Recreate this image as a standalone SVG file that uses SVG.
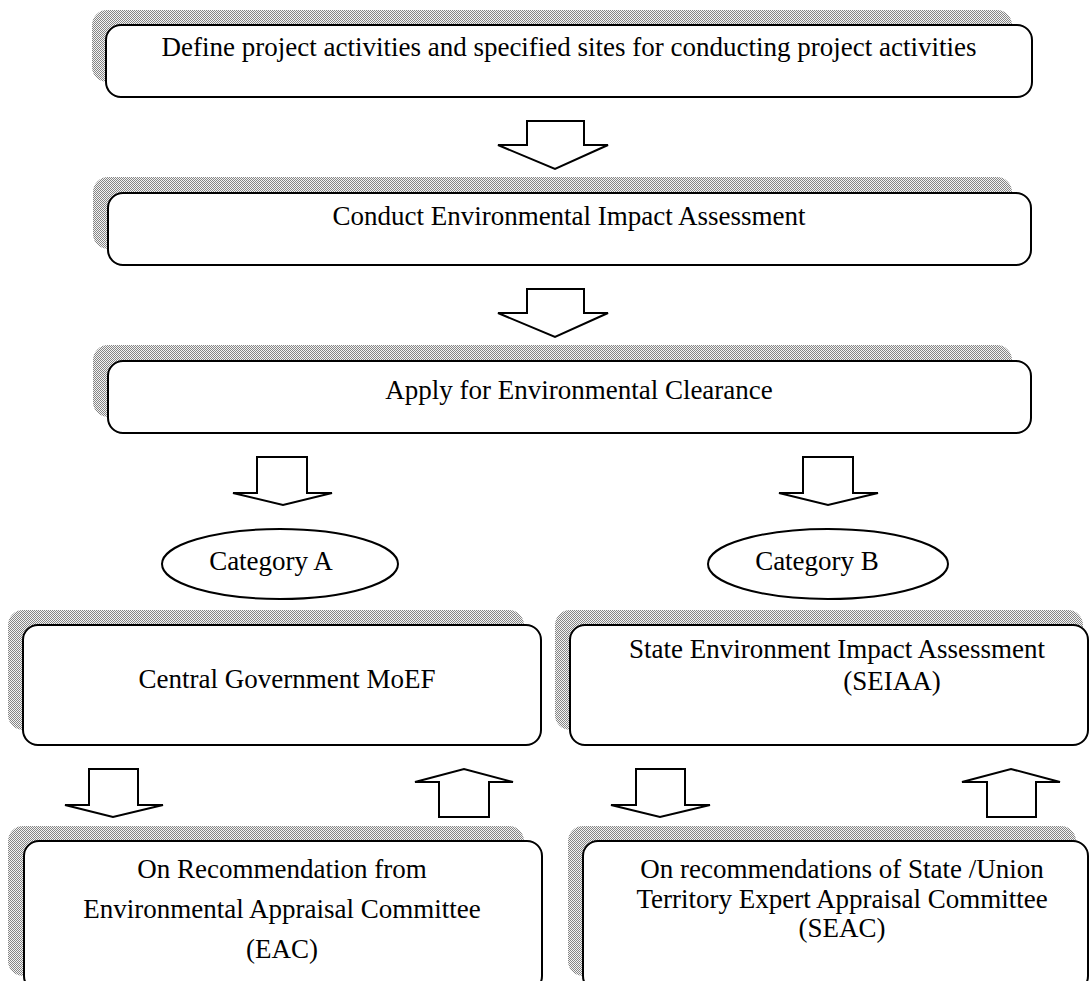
<svg xmlns="http://www.w3.org/2000/svg" width="1092" height="981" viewBox="0 0 1092 981">
<defs>
<pattern id="chk" width="2" height="2" patternUnits="userSpaceOnUse">
<rect width="2" height="2" fill="#f4f4f4"/>
<rect x="0" y="0" width="1" height="1" fill="#858585"/>
<rect x="1" y="1" width="1" height="1" fill="#858585"/>
</pattern>
</defs>
<style>
.sh{fill:url(#chk);stroke:none}
.bx{fill:#fff;stroke:#000;stroke-width:2}
.ar{fill:#fff;stroke:#000;stroke-width:2;stroke-linejoin:miter}
.el{fill:#fff;stroke:#000;stroke-width:2}
text{font-family:"Liberation Serif","Times New Roman",serif;font-size:27px;fill:#000;text-anchor:middle}
</style>
<rect width="1092" height="981" fill="#fff"/>

<g id="box1">
<rect class="sh" x="92" y="10" width="920" height="72" rx="15"/>
<rect class="bx" x="106" y="25" width="926" height="72" rx="15"/>
<text x="569" y="56">Define project activities and specified sites for conducting project activities</text>
</g>
<g id="box2">
<rect class="sh" x="93" y="177" width="919" height="72" rx="15"/>
<rect class="bx" x="108" y="193" width="923" height="72" rx="15"/>
<text x="569" y="225">Conduct Environmental Impact Assessment</text>
</g>
<g id="box3">
<rect class="sh" x="93" y="345" width="919" height="72" rx="15"/>
<rect class="bx" x="108" y="361" width="923" height="72" rx="15"/>
<text x="579" y="399">Apply for Environmental Clearance</text>
</g>
<g id="catA">
<ellipse class="el" cx="280" cy="564" rx="118" ry="35"/>
<text x="271" y="570">Category A</text>
</g>
<g id="catB">
<ellipse class="el" cx="828" cy="564" rx="120" ry="35"/>
<text x="817" y="570">Category B</text>
</g>
<g id="moef">
<rect class="sh" x="8" y="610" width="516" height="120" rx="15"/>
<rect class="bx" x="23" y="625" width="518" height="120" rx="15"/>
<text x="287" y="688">Central Government MoEF</text>
</g>
<g id="seiaa">
<rect class="sh" x="555" y="610" width="528" height="120" rx="15"/>
<rect class="bx" x="570" y="625" width="518" height="120" rx="15"/>
<text x="837" y="658">State Environment Impact Assessment</text>
<text x="892" y="690">(SEIAA)</text>
</g>
<g id="eac">
<rect class="sh" x="8" y="826" width="516" height="150" rx="15"/>
<rect class="bx" x="24" y="841" width="518" height="150" rx="15"/>
<text x="282" y="878">On Recommendation from</text>
<text x="282" y="918">Environmental Appraisal Committee</text>
<text x="282" y="958">(EAC)</text>
</g>
<g id="seac">
<rect class="sh" x="568" y="826" width="508" height="150" rx="15"/>
<rect class="bx" x="583" y="841" width="505" height="150" rx="15"/>
<text x="842" y="878">On recommendations of State /Union</text>
<text x="842" y="908">Territory Expert Appraisal Committee</text>
<text x="842" y="937">(SEAC)</text>
</g>

<g id="connectors">
<polygon class="ar" points="527,121 584,121 584,145 608,145 555,169 498,145 527,145"/>
<polygon class="ar" points="527,289 584,289 584,313 608,313 555,337 498,313 527,313"/>
<polygon class="ar" points="257,457 307,457 307,493 332,493 283,505 233,493 257,493"/>
<polygon class="ar" points="803,457 853,457 853,493 878,493 828,505 779,493 803,493"/>
<polygon class="ar" points="89,769 138,769 138,805 163,805 113,817 65,805 89,805"/>
<polygon class="ar" points="439,817 489,817 489,782 513,782 464,769 415,782 439,782"/>
<polygon class="ar" points="636,769 685,769 685,805 710,805 660,817 611,805 636,805"/>
<polygon class="ar" points="987,817 1036,817 1036,782 1060,782 1011,769 962,782 987,782"/>
</g>
</svg>
